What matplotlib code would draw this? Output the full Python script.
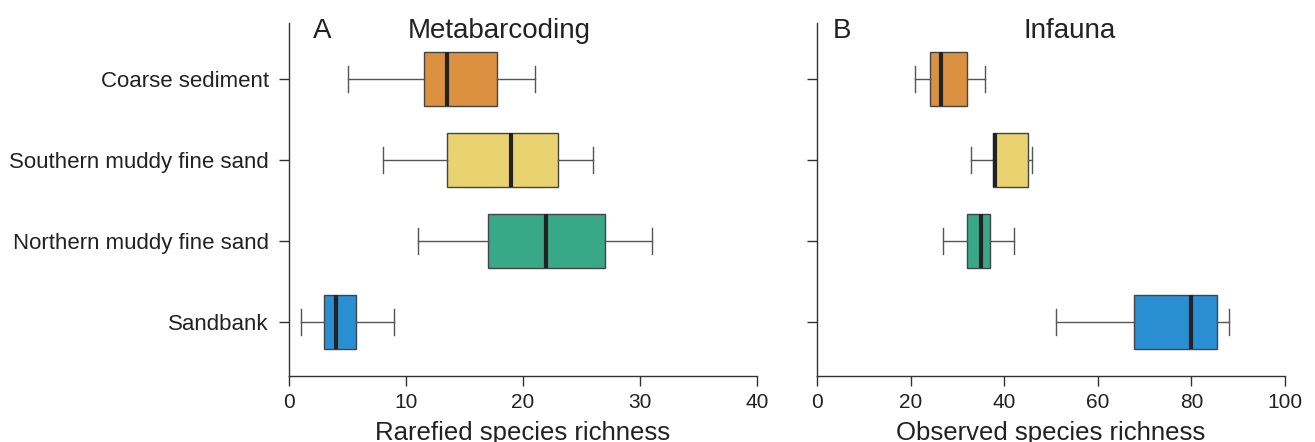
import matplotlib
matplotlib.use("Agg")
import matplotlib.pyplot as plt

# habitat groups (top to bottom)
groups = ["Coarse sediment", "Southern muddy fine sand", "Northern muddy fine sand", "Sandbank"]
colors = ["#DC9141", "#E9D270", "#38A886", "#2A8FD2"]

# A - metabarcoding, rarefied richness
meta_lo = [5, 8, 11, 1]
meta_q1 = [11.5, 13.5, 17, 3]
meta_med = [13.5, 19, 22, 4]
meta_q3 = [17.75, 23, 27, 5.75]
meta_hi = [21, 26, 31, 9]

# B - infauna, observed richness
inf_lo = [21, 33, 27, 51]
inf_q1 = [24.2, 37.7, 32, 67.7]
inf_med = [26.5, 38, 35, 80]
inf_q3 = [32, 45, 37, 85.5]
inf_hi = [36, 46, 42, 88]

plt.rcParams["font.family"] = ["Liberation Sans", "DejaVu Sans"]
plt.rcParams["text.color"] = "#222222"
plt.rcParams["axes.labelcolor"] = "#222222"
plt.rcParams["xtick.color"] = "#333333"
plt.rcParams["ytick.color"] = "#333333"
plt.rcParams["xtick.labelcolor"] = "#222222"
plt.rcParams["ytick.labelcolor"] = "#222222"

fig = plt.figure(figsize=(13.15, 4.42), dpi=100)
axA = fig.add_axes([289 / 1315, 1 - 376 / 442, 468 / 1315, 353 / 442])
axB = fig.add_axes([817 / 1315, 1 - 376 / 442, 468 / 1315, 353 / 442])

positions = [3, 2, 1, 0]


def draw(ax, lo, q1, med, q3, hi, xmax, step, letter, title, title_x, letter_x, xlabel, show_labels):
    stats = []
    for i in range(len(groups)):
        stats.append(dict(whislo=lo[i], q1=q1[i], med=med[i], q3=q3[i], whishi=hi[i],
                          fliers=[], label=groups[i]))
    bp = ax.bxp(stats, positions=positions, orientation="horizontal", widths=0.667,
                capwidths=0.32, patch_artist=True, showfliers=False,
                boxprops=dict(edgecolor="#444444", linewidth=1.0),
                whiskerprops=dict(color="#555555", linewidth=1.0),
                capprops=dict(color="#555555", linewidth=1.0),
                medianprops=dict(color="#222222", linewidth=3.0, solid_capstyle="butt"))
    for patch, c in zip(bp["boxes"], colors):
        patch.set_facecolor(c)

    ax.set_xlim(0, xmax)
    ax.set_ylim(-0.667, 3.69)
    ax.set_xticks(range(0, xmax + 1, step))
    ax.set_yticks(positions)
    if show_labels:
        ax.set_yticklabels(groups)
    else:
        ax.set_yticklabels([])
    ax.spines["top"].set_visible(False)
    ax.spines["right"].set_visible(False)
    for s in ["left", "bottom"]:
        ax.spines[s].set_color("#333333")
        ax.spines[s].set_linewidth(1.0)
    ax.tick_params(axis="both", direction="out", length=7.5, width=1.0, labelsize=15)
    ax.tick_params(axis="x", pad=5)
    ax.tick_params(axis="y", pad=7, labelsize=16)
    # axis title sits right at the bottom edge, as in the original
    ax.set_xlabel(xlabel, fontsize=18.5, labelpad=6)
    ax.text(letter_x, 0.9575, letter, transform=ax.transAxes, fontsize=20, ha="left", va="baseline")
    ax.text(title_x, 0.9575, title, transform=ax.transAxes, fontsize=20, ha="center", va="baseline")


draw(axA, meta_lo, meta_q1, meta_med, meta_q3, meta_hi, 40, 10, "A", "Metabarcoding",
     0.45, 0.051, "Rarefied species richness", True)
draw(axB, inf_lo, inf_q1, inf_med, inf_q3, inf_hi, 100, 20, "B", "Infauna",
     0.54, 0.034, "Observed species richness", False)

fig.savefig("out.png", dpi=100)
plt.close("all")
